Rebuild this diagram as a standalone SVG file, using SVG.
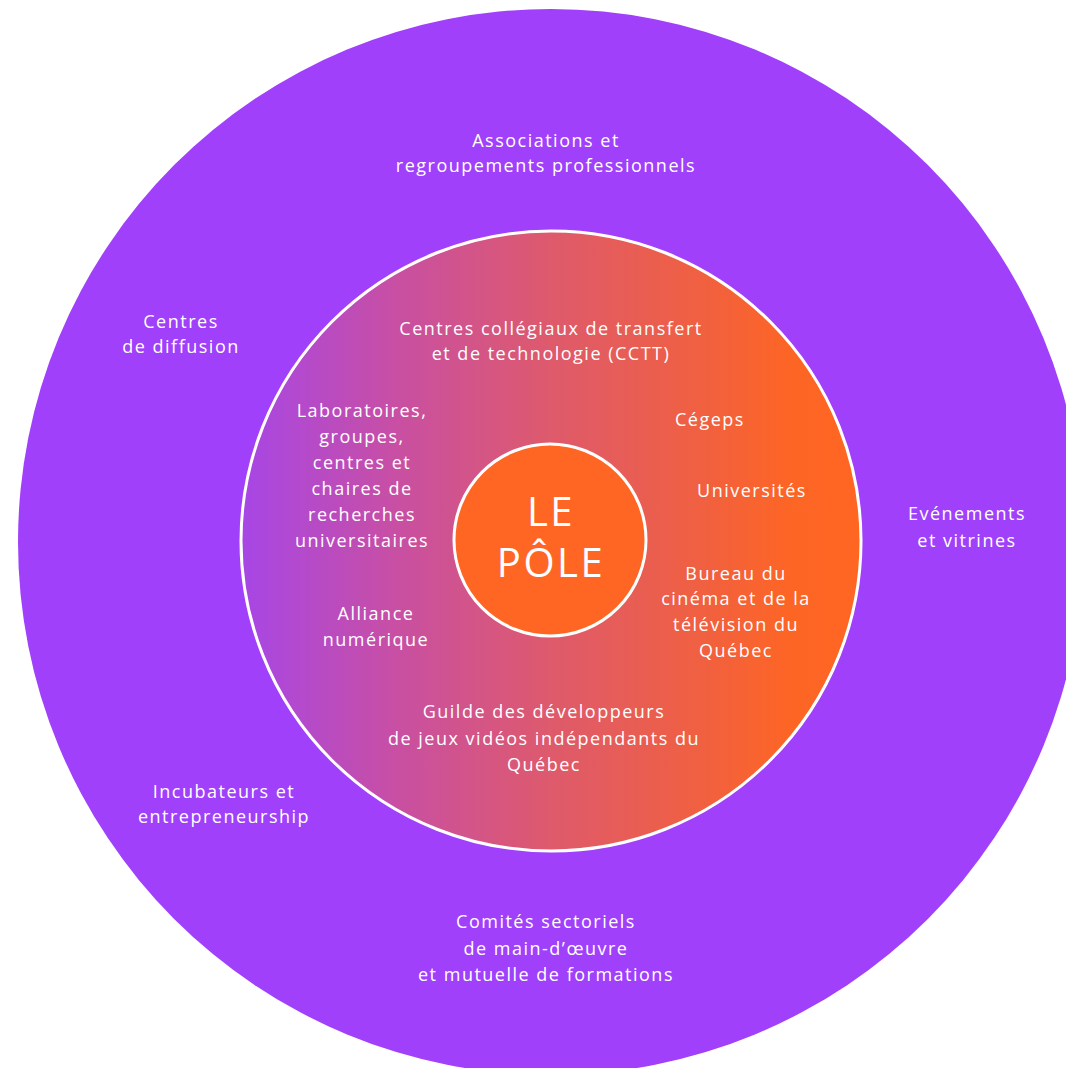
<svg xmlns="http://www.w3.org/2000/svg" width="1066" height="1068" viewBox="0 0 1066 1068">
<style>
text{font-family:"Open Sans","Noto Sans","Liberation Sans",sans-serif;fill:#fff;text-anchor:middle;font-size:18px;letter-spacing:1.5px}
.big{font-size:40px;letter-spacing:2.5px}
</style>
<defs>
<linearGradient id="g" x1="241" y1="0" x2="861" y2="0" gradientUnits="userSpaceOnUse">
<stop offset="0" stop-color="#A746E6"/>
<stop offset="0.25" stop-color="#C84FA3"/>
<stop offset="0.5" stop-color="#DE5A6C"/>
<stop offset="0.75" stop-color="#F1603F"/>
<stop offset="0.88" stop-color="#FD6526"/>
<stop offset="1" stop-color="#FF6622"/>
</linearGradient>
</defs>
<rect width="1066" height="1068" fill="#fff"/>
<g id="outer">
<circle cx="551" cy="542" r="533" fill="#A040FB"/>
<text x="546" y="147">Associations et</text>
<text x="546" y="172">regroupements professionnels</text>
<text x="181" y="328">Centres</text>
<text x="181" y="353">de diffusion</text>
<text x="967" y="520">Evénements</text>
<text x="967" y="547">et vitrines</text>
<text x="224" y="798">Incubateurs et</text>
<text x="224" y="823">entrepreneurship</text>
<text x="546" y="928">Comités sectoriels</text>
<text x="546" y="955">de main-d’œuvre</text>
<text x="546" y="981">et mutuelle de formations</text>
</g>
<g id="middle">
<circle cx="551" cy="541" r="310" fill="url(#g)" stroke="#fff" stroke-width="3"/>
<text x="551" y="335">Centres collégiaux de transfert</text>
<text x="551" y="360">et de technologie (CCTT)</text>
<text x="362" y="417">Laboratoires,</text>
<text x="362" y="443">groupes,</text>
<text x="362" y="469">centres et</text>
<text x="362" y="495">chaires de</text>
<text x="362" y="521">recherches</text>
<text x="362" y="547">universitaires</text>
<text x="710" y="426">Cégeps</text>
<text x="752" y="497">Universités</text>
<text x="376" y="620">Alliance</text>
<text x="376" y="646">numérique</text>
<text x="736" y="580">Bureau du</text>
<text x="736" y="605">cinéma et de la</text>
<text x="736" y="631">télévision du</text>
<text x="736" y="657">Québec</text>
<text x="544" y="718">Guilde des développeurs</text>
<text x="544" y="745">de jeux vidéos indépendants du</text>
<text x="544" y="771">Québec</text>
</g>
<g id="pole">
<circle cx="550" cy="540" r="96" fill="#FF6624" stroke="#fff" stroke-width="3"/>
<text class="big" x="551" y="526">LE</text>
<text class="big" x="551" y="577">PÔLE</text>
</g>
<g id="connectors"/>
</svg>
